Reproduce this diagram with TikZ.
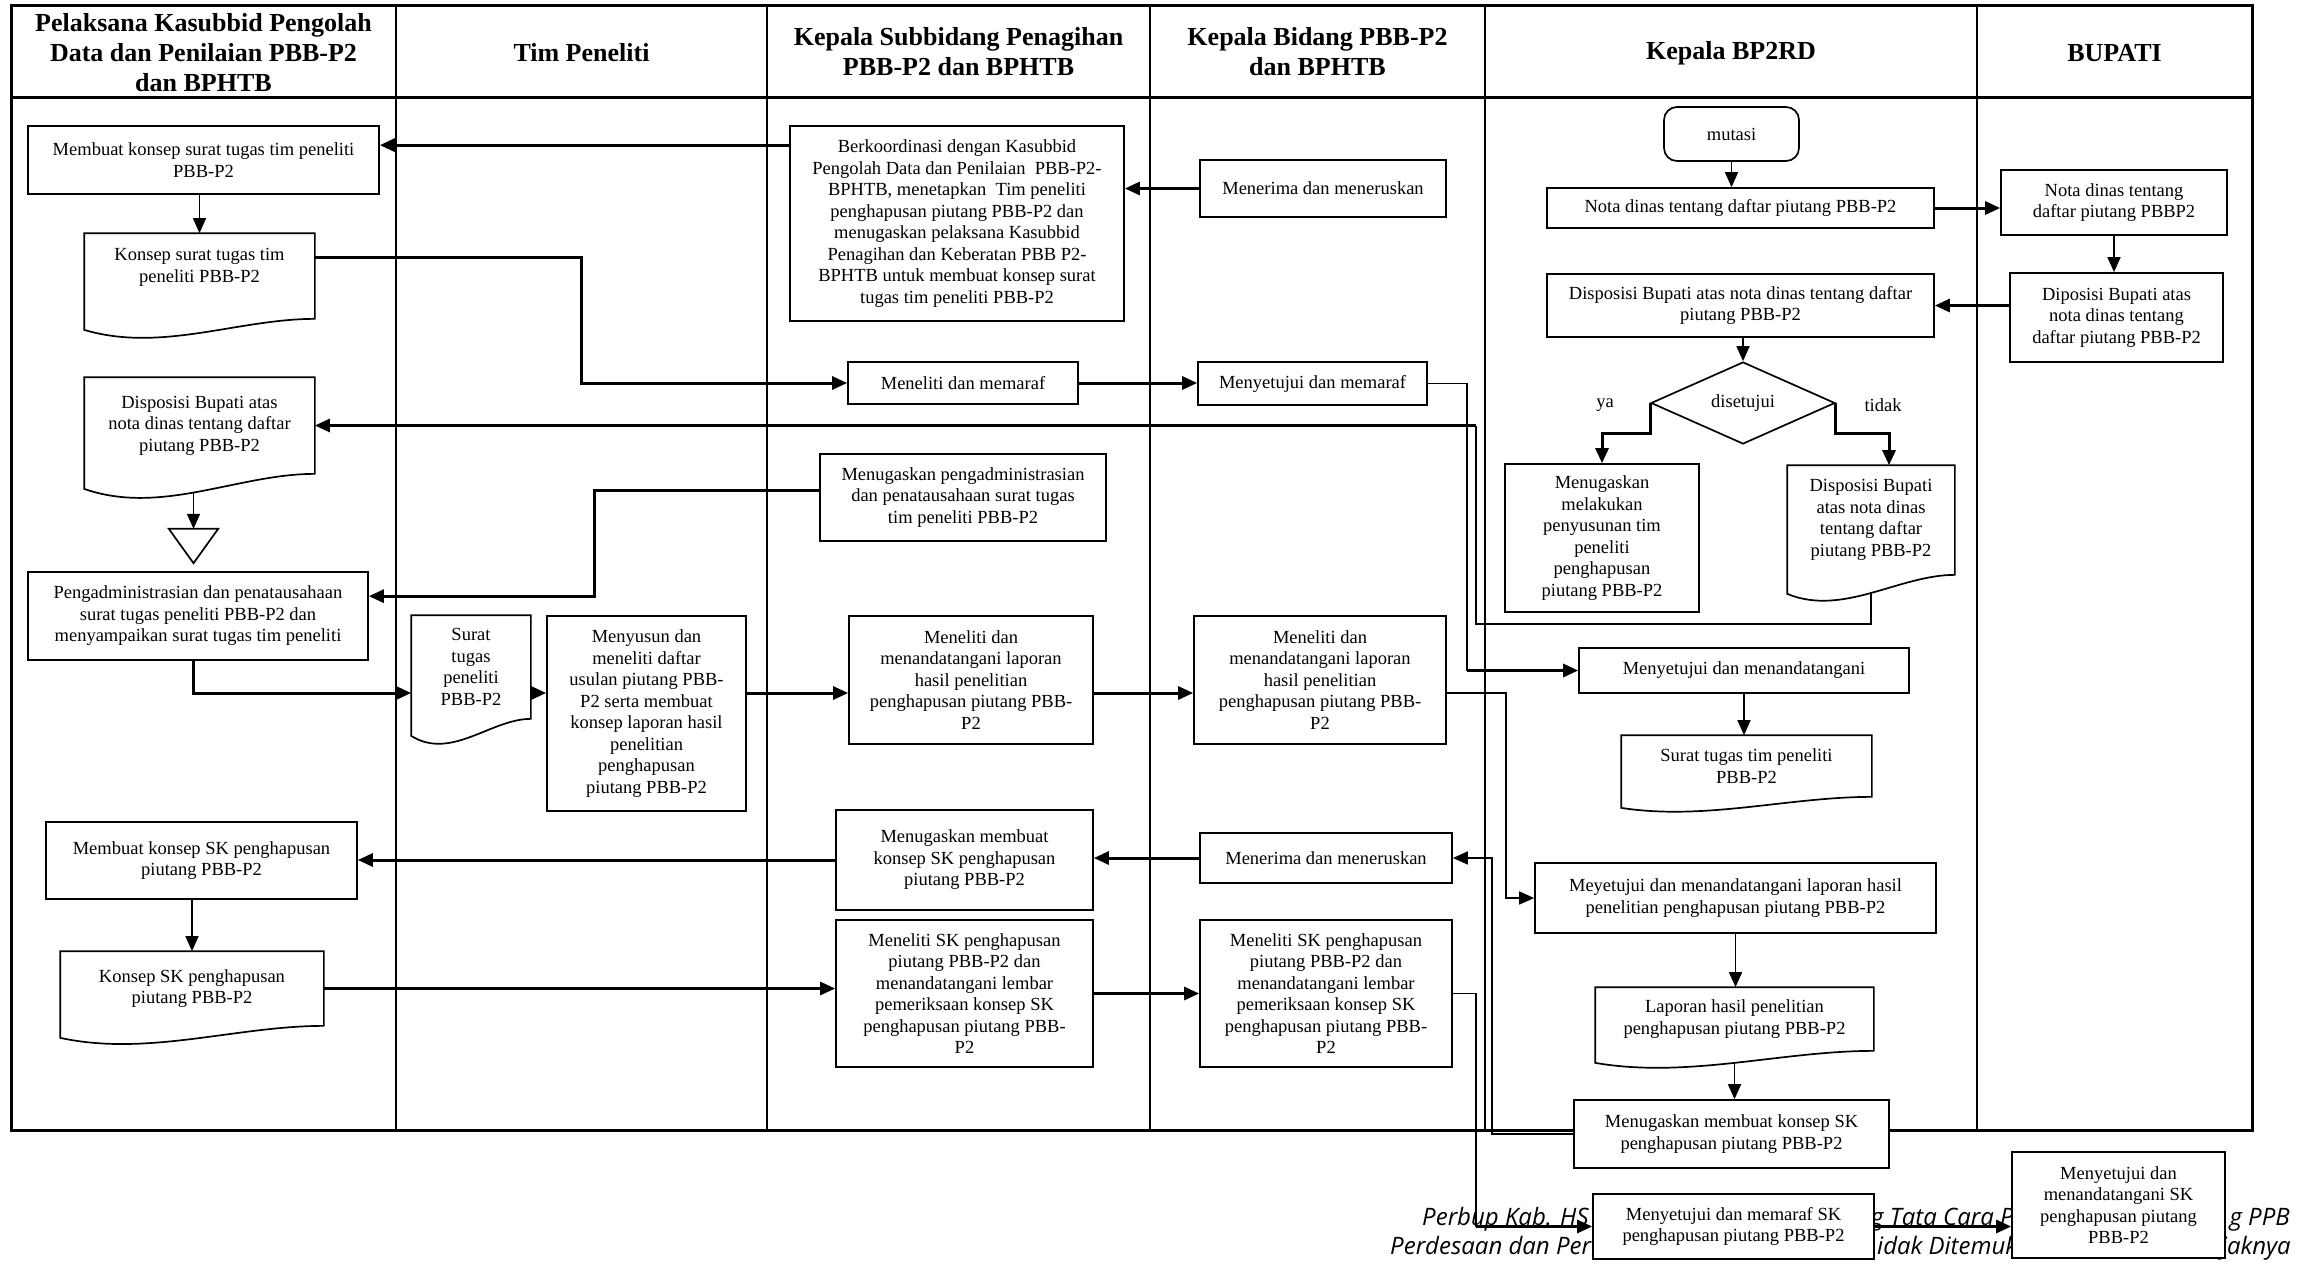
\documentclass[tikz,border=0pt]{standalone}
\usepackage{fontspec}
\setmainfont{Liberation Serif}
\newfontfamily\footfont{Open Sans}
\usetikzlibrary{arrows.meta,calc,shapes.geometric}
% document symbol: outline with wavy bottom, drawn round a named node
\newcommand{\docline}[3]{%
  \draw[docl] ($(#1.south west)+(0,#2)$) -- (#1.north west) -- (#1.north east) -- (#1.south east)
    .. controls ($(#1.south west)!0.667!(#1.south east)$) and ($(#1.south west)!0.333!(#1.south east)+(0,#2+#3)$)
    .. ($(#1.south west)+(0,#2)$) -- cycle;}

\begin{document}
\begin{tikzpicture}[x=1pt,y=-1pt,
    box/.style={draw,line width=1.7pt,fill=white,align=center,inner sep=2pt,
                font=\fontsize{18.5}{21.5}\selectfont},
    doc/.style={box,draw=none,fill=none},
    docl/.style={line width=1.7pt},
    term/.style={box,rounded corners=13pt},
    hdr/.style={align=center,font=\bfseries\fontsize{26}{30}\selectfont},
    lbl/.style={font=\fontsize{18.5}{21.5}\selectfont,inner sep=1pt},
    foot/.style={inner sep=0pt,font=\footfont\itshape\fontsize{24}{29}\selectfont},
    frm/.style={line width=3pt},
    lane/.style={line width=1.8pt},
    thk/.style={line width=3pt},
    thn/.style={line width=1.6pt},
    >={Triangle[length=15pt,width=13pt]}]
  \useasboundingbox[fill=white] (0,0) rectangle (2312,1264);

  % lanes
  \draw[frm] (11,5) rectangle (2252,1130);
  \draw[frm] (11,97) -- (2252,97);
  \foreach \x in {396,767,1150,1485,1977}
    \draw[lane] (\x,5) -- (\x,1130);
  \node[hdr] (h1) at (203.5,53) {Pelaksana Kasubbid Pengolah\\Data dan Penilaian PBB-P2\\dan BPHTB};
  \node[hdr] (h2) at (581.5,53) {Tim Peneliti};
  \node[hdr] (h3) at (958.5,52) {Kepala Subbidang Penagihan\\PBB-P2 dan BPHTB};
  \node[hdr] (h4) at (1317.5,52) {Kepala Bidang PBB-P2\\dan BPHTB};
  \node[hdr] (h5) at (1731,53) {Kepala BP2RD};
  \node[hdr] (h6) at (2114.5,53) {BUPATI};

  % footer text, partly covered by the last boxes
  \node[foot,anchor=base west] (ft1) at (1422,1225) {Perbup Kab. HS};
  \node[foot,anchor=base west] (ft2) at (1871,1225) {g Tata Cara P};
  \node[foot,anchor=base east] (ft3) at (2290,1225) {g PPB};
  \node[foot,anchor=base west] (ft4) at (1390,1254) {Perdesaan dan Per};
  \node[foot,anchor=base west] (ft5) at (1877,1254) {idak Ditemuk};
  \node[foot,anchor=base east] (ft6) at (2291,1254) {jaknya};

  % Pelaksana Kasubbid
  \node[box,minimum width=351pt,minimum height=68pt] (a1) at (203.5,160) {Membuat konsep surat tugas tim peneliti\\PBB-P2};
  \node[doc,minimum width=229pt,minimum height=84pt] (a2) at (199.5,276) {Konsep surat tugas tim\\peneliti PBB-P2\\\mbox{}};
  \node[doc,minimum width=229pt,minimum height=95pt] (a3) at (199.5,425.5) {Disposisi Bupati atas\\nota dinas tentang daftar\\piutang PBB-P2};
  \node[minimum width=49pt,minimum height=34pt,inner sep=0pt] (a4) at (193.5,546) {};
  \draw[docl] (a4.north west) -- (a4.north east) -- (a4.south) -- cycle;
  \node[box,minimum width=340pt,minimum height=88pt] (a5) at (198,616) {Pengadministrasian dan penatausahaan\\surat tugas peneliti PBB-P2 dan\\menyampaikan surat tugas tim peneliti};
  \node[box,minimum width=311pt,minimum height=77pt] (a6) at (201.5,860.5) {Membuat konsep SK penghapusan\\piutang PBB-P2};
  \node[doc,minimum width=262pt,minimum height=73pt] (a7) at (192,988.5) {Konsep SK penghapusan\\piutang PBB-P2};

  % Tim Peneliti
  \node[doc,minimum width=118pt,minimum height=102pt] (b1) at (471,667) {Surat\\tugas\\peneliti\\PBB-P2};
  \node[box,minimum width=199pt,minimum height=195pt] (b2) at (646.5,713.5) {Menyusun dan\\meneliti daftar\\usulan piutang PBB-\\P2 serta membuat\\konsep laporan hasil\\penelitian\\penghapusan\\piutang PBB-P2};

  % Kepala Subbidang
  \node[box,minimum width=334pt,minimum height=195pt] (c1) at (957,223.5) {Berkoordinasi dengan Kasubbid\\Pengolah Data dan Penilaian\ \ PBB-P2-\\BPHTB, menetapkan\ \ Tim peneliti\\penghapusan piutang PBB-P2 dan\\menugaskan pelaksana Kasubbid\\Penagihan dan Keberatan PBB P2-\\BPHTB untuk membuat konsep surat\\tugas tim peneliti PBB-P2};
  \node[box,minimum width=230pt,minimum height=42pt] (c2) at (963,383) {Meneliti dan memaraf};
  \node[box,minimum width=286pt,minimum height=87pt] (c3) at (963,497.5) {Menugaskan pengadministrasian\\dan penatausahaan surat tugas\\tim peneliti PBB-P2};
  \node[box,minimum width=244pt,minimum height=128pt] (c4) at (971,680) {Meneliti dan\\menandatangani laporan\\hasil penelitian\\penghapusan piutang PBB-\\P2};
  \node[box,minimum width=257pt,minimum height=100pt] (c5) at (964.5,860) {Menugaskan membuat\\konsep SK penghapusan\\piutang PBB-P2};
  \node[box,minimum width=257pt,minimum height=147pt] (c6) at (964.5,993.5) {Meneliti SK penghapusan\\piutang PBB-P2 dan\\menandatangani lembar\\pemeriksaan konsep SK\\penghapusan piutang PBB-\\P2};

  % Kepala Bidang
  \node[box,minimum width=246pt,minimum height=57pt] (d1) at (1323,188.5) {Menerima dan meneruskan};
  \node[box,minimum width=229pt,minimum height=43pt] (d2) at (1312.5,383.5) {Menyetujui dan memaraf};
  \node[box,minimum width=252pt,minimum height=128pt] (d3) at (1320,680) {Meneliti dan\\menandatangani laporan\\hasil penelitian\\penghapusan piutang PBB-\\P2};
  \node[box,minimum width=252pt,minimum height=50pt] (d4) at (1326,858) {Menerima dan meneruskan};
  \node[box,minimum width=252pt,minimum height=147pt] (d5) at (1326,993.5) {Meneliti SK penghapusan\\piutang PBB-P2 dan\\menandatangani lembar\\pemeriksaan konsep SK\\penghapusan piutang PBB-\\P2};

  % Kepala BP2RD
  \node[term,minimum width=135pt,minimum height=54pt] (e0) at (1731.5,134) {mutasi};
  \node[box,minimum width=387pt,minimum height=40pt] (e1) at (1740.5,208) {Nota dinas tentang daftar piutang PBB-P2};
  \node[box,minimum width=387pt,minimum height=63pt] (e2) at (1740.5,305.5) {Disposisi Bupati atas nota dinas tentang daftar\\piutang PBB-P2};
  \node[draw,diamond,line width=1.7pt,minimum width=184pt,minimum height=82pt,inner sep=0pt,
        font=\fontsize{18.5}{21.5}\selectfont] (dia) at (1743,403) {\raisebox{4pt}{disetujui}};
  \node[lbl] (ya) at (1605,405) {ya};
  \node[lbl] (tdk) at (1883,405) {tidak};
  \node[box,minimum width=194pt,minimum height=148pt] (e3) at (1602,538) {Menugaskan\\melakukan\\penyusunan tim\\peneliti\\penghapusan\\piutang PBB-P2};
  \node[doc,minimum width=166pt,minimum height=108pt] (e4) at (1871,520) {Disposisi Bupati\\atas nota dinas\\tentang daftar\\piutang PBB-P2};
  \node[box,minimum width=330pt,minimum height=45pt] (e5) at (1744,670.5) {Menyetujui dan menandatangani};
  \node[doc,minimum width=249pt,minimum height=60pt] (e6) at (1746.5,766) {Surat tugas tim peneliti\\PBB-P2};
  \node[box,minimum width=401pt,minimum height=70pt] (e7) at (1735.5,898) {Meyetujui dan menandatangani laporan hasil\\penelitian penghapusan piutang PBB-P2};
  \node[doc,minimum width=277pt,minimum height=62pt] (e8) at (1734.5,1019) {Laporan hasil penelitian\\penghapusan piutang PBB-P2};
  \node[box,minimum width=315pt,minimum height=68pt] (e9) at (1731.5,1134) {Menugaskan membuat konsep SK\\penghapusan piutang PBB-P2};
  \node[box,minimum width=281pt,minimum height=65pt] (e10) at (1733.5,1226.5) {Menyetujui dan memaraf SK\\penghapusan piutang PBB-P2};

  % Bupati
  \node[box,minimum width=226pt,minimum height=65pt] (g1) at (2114,202.5) {Nota dinas tentang\\daftar piutang PBBP2};
  \node[box,minimum width=213pt,minimum height=89pt] (g2) at (2116.5,317.5) {Diposisi Bupati atas\\nota dinas tentang\\daftar piutang PBB-P2};
  \node[box,minimum width=213pt,minimum height=106pt] (f) at (2118.5,1205) {Menyetujui dan\\menandatangani SK\\penghapusan piutang\\PBB-P2};

  % document outlines
  \docline{a2}{11}{23}
  \docline{a3}{15}{27}
  \docline{a7}{12}{19}
  \docline{b1}{17}{25}
  \docline{e4}{19}{23}
  \docline{e6}{11}{13}
  \docline{e8}{12}{16}

  % bend points
  \coordinate (row) at (0,693);
  \coordinate (v1) at (1467,0);
  \coordinate (v2) at (1476,0);
  \coordinate (v3) at (1506,0);
  \coordinate (v4) at (1492,0);
  \coordinate (v5) at (594,0);
  \coordinate (r1) at (1476,624);
  \coordinate (a5in) at ($(a5.north east)+(0,25)$);

  % connectors
  \draw[thk,->] ($(c1.north west)+(0,20)$) -- ($(a1.north east)+(0,20)$);
  \draw[thk,->] (d1.west) -- (d1.west -| c1.east);
  \draw[thn,->] (a1.south -| a2.north) -- (a2.north);
  \draw[thk,->] ($(a2.north east)+(0,24)$) -| (h2.south |- c2.west) -- (c2.west);
  \draw[thk,->] (c2.east) -- (c2.east -| d2.west);
  \draw[thn] (d2.east) -| (v1 |- e5.west);
  \draw[thk,->] (v1 |- e5.west) -- (e5.west);
  \draw[thn] ($(e4.south)+(0,17)$) |- (r1) -- (v2 |- a3.east);
  \draw[thk,->] (v2 |- a3.east) -- (a3.east);
  \draw[thk,->] ($(c3.west)+(0,-7)$) -| (v5 |- a5in) -- (a5in);
  \draw[thn,->] ($(a3.south -| a4.north)+(0,19)$) -- (a4.north);
  \draw[thk,->] (a5.south -| a4.north) |- (b1.west |- row);
  \draw[thk,->] (b1.east |- row) -- (b2.west |- row);
  \draw[thk,->] (b2.east |- row) -- (c4.west |- row);
  \draw[thk,->] (c4.east |- row) -- (d3.west |- row);
  \draw[thn,->] (d3.east |- row) -| (v3 |- e7.west) -- (e7.west);
  \draw[thn,->] (e0.south) -- (e0.south |- e1.north);
  \draw[thk,->] (e1.east) -- (e1.east -| g1.west);
  \draw[thn,->] (g1.south) -- (g1.south |- g2.north);
  \draw[thk,->] (g2.west |- e2.east) -- (e2.east);
  \draw[thn,->] (e2.south -| dia.north) -- (dia.north);
  \draw[thk,->] (dia.west) -- ++(0,30) -| (e3.north);
  \draw[thk,->] (dia.east) -- ++(0,30) -| ($(e4.north)+(18,0)$);
  \draw[thn,->] (e5.south) -- (e5.south |- e6.north);
  \draw[thn,->] (e7.south) -- (e7.south |- e8.north);
  \draw[thn,->] ($(e8.south)+(0,12)$) -- (e8.south |- e9.north);
  \draw[thn,->] (e9.west) -| (v4 |- d4.east) -- (d4.east);
  \draw[thk,->] (d4.west) -- (d4.west -| c5.east);
  \draw[thk,->] (c5.west) -- (c5.west -| a6.east);
  \draw[thn,->] (a7.north |- a6.south) -- (a7.north);
  \draw[thk,->] (a7.east) -- (a7.east -| c6.west);
  \draw[thk,->] (c6.east) -- (c6.east -| d5.west);
  \draw[thn] (d5.east) -| (v2 |- e10.west);
  \draw[thk,->] (v2 |- e10.west) -- (e10.west);
  \draw[thk,->] (e10.east) -- (e10.east -| f.west);
\end{tikzpicture}
\end{document}
